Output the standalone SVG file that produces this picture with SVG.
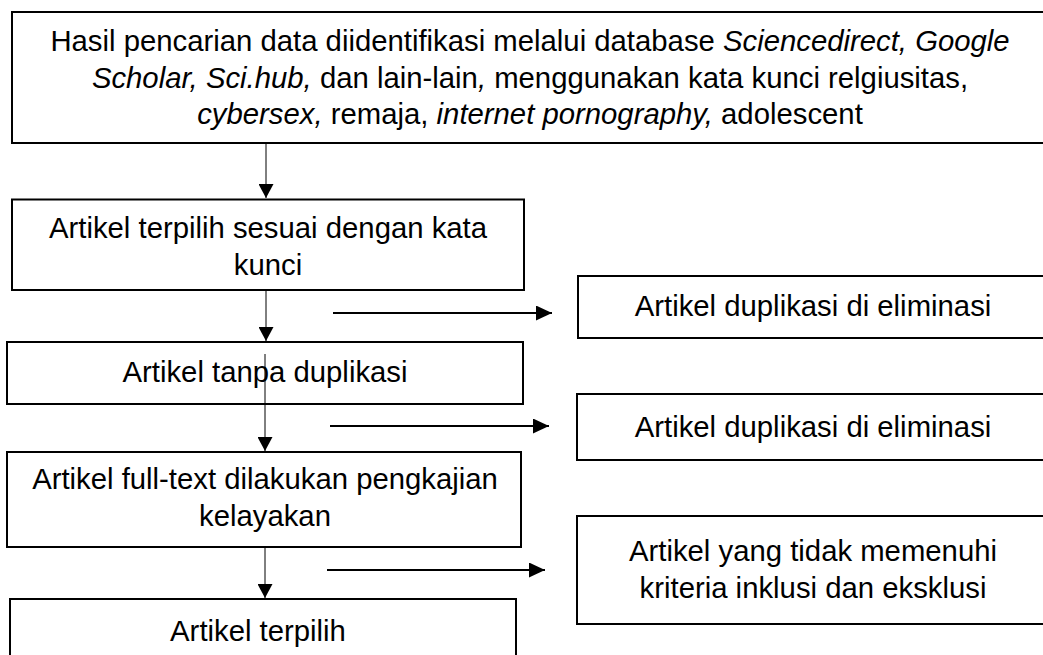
<svg xmlns="http://www.w3.org/2000/svg" width="1043" height="655" viewBox="0 0 1043 655">
  <defs>
    <style>
      .box { fill: #ffffff; stroke: #000000; stroke-width: 2; }
      .txt { font-family: "Liberation Sans", Arial, sans-serif; font-size: 29.3px; fill: #000000; text-anchor: middle; }
      .it { font-style: italic; }
      .vline { stroke: #000000; stroke-width: 1; fill: none; }
      .hline { stroke: #000000; stroke-width: 2; fill: none; }
    </style>
    <marker id="ahv" markerUnits="userSpaceOnUse" markerWidth="15" markerHeight="15" refX="14" refY="7.5" orient="auto">
      <path d="M0,0 L14,7.5 L0,15 z" fill="#000000"/>
    </marker>
    <marker id="ahh" markerUnits="userSpaceOnUse" markerWidth="16" markerHeight="15" refX="16" refY="7.5" orient="auto">
      <path d="M0,0 L16,7.5 L0,15 z" fill="#000000"/>
    </marker>
  </defs>

  <g id="node-search">
    <rect class="box" x="12" y="12" width="1045" height="131"/>
    <text class="txt" x="530" y="51">Hasil pencarian data diidentifikasi melalui database <tspan class="it">Sciencedirect, Google</tspan></text>
    <text class="txt" x="530" y="88"><tspan class="it">Scholar, Sci.hub,</tspan> dan lain-lain<tspan class="it">,</tspan> menggunakan kata kunci relgiusitas,</text>
    <text class="txt" x="530" y="124"><tspan class="it">cybersex,</tspan> remaja, <tspan class="it">internet pornography,</tspan> adolescent</text>
  </g>

  <g id="node-keyword">
    <rect class="box" x="12" y="199.5" width="512" height="90.5"/>
    <text class="txt" x="268" y="238">Artikel terpilih sesuai dengan kata</text>
    <text class="txt" x="268" y="275">kunci</text>
  </g>

  <g id="node-nodup">
    <rect class="box" x="7" y="342" width="516" height="62"/>
    <text class="txt" x="265" y="382">Artikel tanpa duplikasi</text>
  </g>

  <g id="node-fulltext">
    <rect class="box" x="7" y="452" width="514" height="95"/>
    <text class="txt" x="265" y="489">Artikel full-text dilakukan pengkajian</text>
    <text class="txt" x="265" y="526">kelayakan</text>
  </g>

  <g id="node-selected">
    <rect class="box" x="10" y="599" width="506" height="70"/>
    <text class="txt" x="258" y="641">Artikel terpilih</text>
  </g>

  <g id="node-dup1">
    <rect class="box" x="578" y="276" width="480" height="62"/>
    <text class="txt" x="813" y="316">Artikel duplikasi di eliminasi</text>
  </g>

  <g id="node-dup2">
    <rect class="box" x="577" y="394" width="480" height="66"/>
    <text class="txt" x="813" y="437">Artikel duplikasi di eliminasi</text>
  </g>

  <g id="node-excluded">
    <rect class="box" x="577" y="516" width="480" height="108"/>
    <text class="txt" x="813" y="561">Artikel yang tidak memenuhi</text>
    <text class="txt" x="813" y="598">kriteria inklusi dan eksklusi</text>
  </g>

  <g id="connectors">
    <line class="vline" x1="266" y1="143" x2="266" y2="198" marker-end="url(#ahv)"/>
    <line class="vline" x1="266" y1="290" x2="266" y2="341" marker-end="url(#ahv)"/>
    <line class="vline" x1="265" y1="354" x2="265" y2="451" marker-end="url(#ahv)"/>
    <line class="vline" x1="265" y1="547" x2="265" y2="598" marker-end="url(#ahv)"/>
    <line class="hline" x1="333" y1="313" x2="552" y2="313" marker-end="url(#ahh)"/>
    <line class="hline" x1="330" y1="426" x2="549" y2="426" marker-end="url(#ahh)"/>
    <line class="hline" x1="327" y1="570" x2="545" y2="570" marker-end="url(#ahh)"/>
  </g>
</svg>
